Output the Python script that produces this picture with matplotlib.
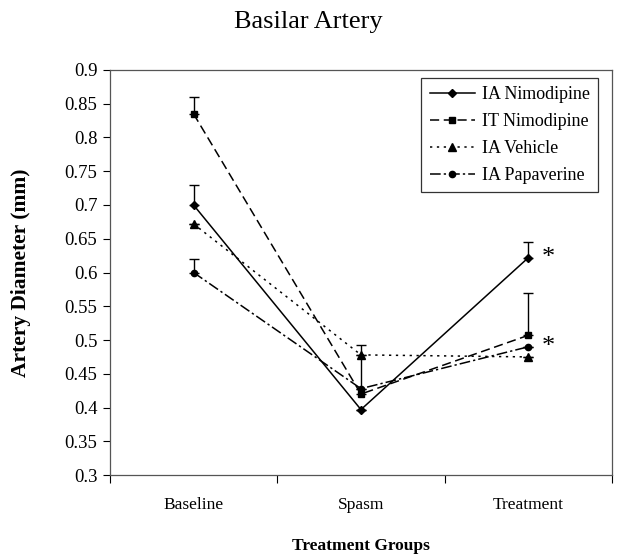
import matplotlib
matplotlib.use('Agg')
from matplotlib import pyplot as plt
from matplotlib.lines import Line2D

groups = ['Baseline', 'Spasm', 'Treatment']
series_names = ['IA Nimodipine', 'IT Nimodipine', 'IA Vehicle', 'IA Papaverine']
ia_nimodipine = [0.700, 0.397, 0.622]
it_nimodipine = [0.835, 0.420, 0.507]
ia_vehicle = [0.672, 0.478, 0.475]
ia_papaverine = [0.600, 0.428, 0.490]
# upward error bars only
ia_nimodipine_err = [0.030, 0.0, 0.023]
it_nimodipine_err = [0.025, 0.058, 0.062]
ia_vehicle_err = [0.0, 0.015, 0.0]
ia_papaverine_err = [0.020, 0.0, 0.0]

plt.rcParams['font.family'] = 'serif'
plt.rcParams['font.serif'] = ['Liberation Serif', 'DejaVu Serif']

fig = plt.figure(figsize=(6.17, 5.55), dpi=100)
ax = fig.add_axes([0.178, 0.144, 0.814, 0.730])

x = [1, 2, 3]
styles = [
	(ia_nimodipine, ia_nimodipine_err, '-', 'D', 4),
	(it_nimodipine, it_nimodipine_err, (0, (6, 3)), 's', 5),
	(ia_vehicle, ia_vehicle_err, (0, (1.5, 3)), '^', 5.5),
	(ia_papaverine, ia_papaverine_err, (0, (7, 2, 1.5, 2)), 'o', 4.5),
]
handles = []
for (vals, errs, ls, mk, ms), name in zip(styles, series_names):
	ax.errorbar(x, vals, yerr=[[0, 0, 0], errs], color='black', linestyle=ls,
				linewidth=1.1, marker=mk, markersize=ms, capsize=3.5,
				elinewidth=1.0, capthick=1.0)
	handles.append(Line2D([], [], color='black', linestyle=ls, linewidth=1.1,
						  marker=mk, markersize=ms, label=name))

ax.text(3.08, ia_nimodipine[2], '*', fontsize=19, ha='left', va='center')
ax.text(3.08, ia_papaverine[2], '*', fontsize=19, ha='left', va='center')

ax.set_xlim(0.5, 3.5)
ax.set_ylim(0.3, 0.9)
ax.set_yticks([0.3 + 0.05 * i for i in range(13)])
ax.set_yticklabels(['%g' % round(0.3 + 0.05 * i, 2) for i in range(13)], fontsize=13.5)
ax.set_xticks([0.5, 1.5, 2.5, 3.5])
ax.set_xticklabels([])
ax.set_xticks(x, minor=True)
ax.set_xticklabels(groups, minor=True, fontsize=12.5)
ax.tick_params(axis='x', which='minor', length=0, pad=16)
ax.tick_params(axis='x', which='major', length=6, direction='out')
ax.tick_params(axis='y', length=5, direction='out', pad=4)
for s in ax.spines.values():
	s.set_color('#555555')
	s.set_linewidth(0.9)

ax.set_ylabel('Artery Diameter (mm)', fontsize=15.5, fontweight='bold', labelpad=24)
fig.text(0.585, 0.002, 'Treatment Groups', fontsize=12.5, fontweight='bold',
		 ha='center', va='bottom')
fig.suptitle('Basilar Artery', fontsize=19, y=0.98)

leg = ax.legend(handles=handles, loc='upper right', fontsize=13, frameon=True,
				fancybox=False, edgecolor='black', handlelength=2.5,
				bbox_to_anchor=(0.972, 0.98), borderaxespad=0.0,
				labelspacing=0.55, handletextpad=0.4, borderpad=0.45)
leg.get_frame().set_linewidth(0.9)

fig.savefig('out.png', dpi=100)
